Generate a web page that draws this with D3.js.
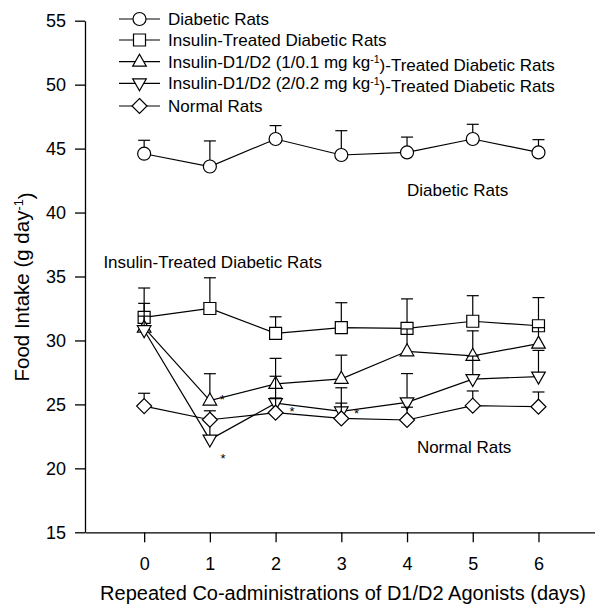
<!DOCTYPE html>
<html lang="en">
<head>
<meta charset="utf-8">
<title>Food intake</title>
<script src="https://cdnjs.cloudflare.com/ajax/libs/d3/7.8.5/d3.min.js"></script>
<style>
  body { margin: 0; background: #fff; }
  text { font-family: "Liberation Sans", Arial, Helvetica, sans-serif; fill: #000; }
</style>
</head>
<body>
<script>
// data (mean, upper SE)
var days = [0, 1, 2, 3, 4, 5, 6];
var yTicks = [15, 20, 25, 30, 35, 40, 45, 50, 55];

var diabetic    = [44.6, 43.6, 45.75, 44.5, 44.7, 45.75, 44.7];
var diabeticErr = [1.05, 2.0, 1.05, 1.9, 1.2, 1.15, 1.0];
var insulin     = [31.8, 32.5, 30.55, 31.0, 30.95, 31.5, 31.15];
var insulinErr  = [2.3, 2.4, 1.3, 1.95, 2.3, 2.0, 2.2];
var low         = [31.0, 25.3, 26.6, 27.0, 29.15, 28.8, 29.75];
var lowErr      = [1.9, 2.1, 2.0, 1.85, 1.75, 1.95, 1.25];
var high        = [30.8, 22.25, 25.1, 24.45, 25.16, 26.98, 27.17];
var highErr     = [1.1, 1.7, 2.1, 1.85, 2.25, 1.8, 2.05];
var normal      = [24.87, 23.8, 24.35, 23.9, 23.78, 24.9, 24.82];
var normalErr   = [1.0, 0.7, 1.15, 1.2, 1.0, 1.15, 1.15];

var seriesNames = ["Diabetic Rats", "Insulin-Treated Diabetic Rats",
  "Insulin-D1/D2 (1/0.1 mg kg|-1|)-Treated Diabetic Rats",
  "Insulin-D1/D2 (2/0.2 mg kg|-1|)-Treated Diabetic Rats", "Normal Rats"];
var seriesShapes = ["circle", "square", "up", "down", "diamond"];
var seriesValues = [diabetic, insulin, low, high, normal];
var seriesErrors = [diabeticErr, insulinErr, lowErr, highErr, normalErr];

// significance stars (day, value)
var starDays   = [1.19, 1.2, 2.25, 3.23];
var starValues = [25.56, 20.9, 24.62, 24.43];

// labels placed in the plot (day, value at baseline)
var noteText   = ["Diabetic Rats", "Insulin-Treated Diabetic Rats", "Normal Rats"];
var noteDays   = [4.0, -0.62, 4.15];
var noteValues = [41.3, 35.66, 21.22];

var w = 595, h = 608;

var x = d3.scaleLinear().domain([-0.9, 6.86]).range([85, 595]);
var y = d3.scaleLinear().domain([15, 55]).range([532.3, 20.7]);

var svg = d3.select("body").append("svg")
  .attr("width", w)
  .attr("height", h);

svg.append("rect").attr("width", w).attr("height", h).attr("fill", "#fff");

// marker outlines centred on 0,0
function shapePath(type) {
  if (type == "circle") return "M-6.5,0A6.5,6.5 0 1 0 6.5,0A6.5,6.5 0 1 0 -6.5,0Z";
  if (type == "square") return "M-6,-6H6V6H-6Z";
  if (type == "up") return "M0,-7.5L6.8,4.5H-6.8Z";
  if (type == "down") return "M0,7.5L6.8,-4.5H-6.8Z";
  return "M0,-7.5L7.5,0L0,7.5L-7.5,0Z";
}

// text with "|-1|" style superscripts
function addText(sel, str) {
  var parts = str.split("|");
  parts.forEach(function(p, i) {
    if (i % 2 == 1) {
      sel.append("tspan").attr("dy", "-0.45em").style("font-size", "0.62em").text(p);
    } else {
      sel.append("tspan").attr("dy", i > 0 ? "0.45em" : null).text(p);
    }
  });
}

// axes
var yAxis = d3.axisLeft(y).tickValues(yTicks).tickSize(10).tickSizeOuter(0).tickPadding(9);
var gy = svg.append("g").attr("transform", "translate(85,0)").call(yAxis);
gy.selectAll("text").style("font-size", "18px");

var xAxis = d3.axisBottom(x).tickValues(days).tickSize(10).tickSizeOuter(0).tickPadding(15);
var gx = svg.append("g").attr("transform", "translate(0,532.3)").call(xAxis);
gx.selectAll("text").style("font-size", "18px");

svg.selectAll(".domain, .tick line").attr("stroke", "#000").attr("stroke-width", 1.3);

svg.append("text")
  .attr("x", 343).attr("y", 600)
  .attr("text-anchor", "middle")
  .style("font-size", "20px")
  .text("Repeated Co-administrations of D1/D2 Agonists (days)");

var yt = svg.append("text")
  .attr("transform", "translate(29,287) rotate(-90)")
  .attr("text-anchor", "middle")
  .style("font-size", "20.5px");
addText(yt, "Food Intake (g day|-1|)");

// series
var line = d3.line()
  .x(function(d) { return x(d.day); })
  .y(function(d) { return y(d.v); });

seriesValues.forEach(function(vals, s) {
  var pts = days.map(function(d, i) { return {day: d, v: vals[i], e: seriesErrors[s][i]}; });
  var g = svg.append("g");

  g.append("path").datum(pts)
    .attr("d", line)
    .attr("fill", "none").attr("stroke", "#000").attr("stroke-width", 1.2);

  var eb = g.selectAll("g.err").data(pts).enter().append("g").attr("class", "err");
  eb.append("line")
    .attr("x1", function(d) { return x(d.day); })
    .attr("x2", function(d) { return x(d.day); })
    .attr("y1", function(d) { return y(d.v); })
    .attr("y2", function(d) { return y(d.v + d.e); })
    .attr("stroke", "#000").attr("stroke-width", 1.2);
  eb.append("line")
    .attr("x1", function(d) { return x(d.day) - 6; })
    .attr("x2", function(d) { return x(d.day) + 6; })
    .attr("y1", function(d) { return y(d.v + d.e); })
    .attr("y2", function(d) { return y(d.v + d.e); })
    .attr("stroke", "#000").attr("stroke-width", 1.2);

  g.selectAll("path.mark").data(pts).enter().append("path")
    .attr("class", "mark")
    .attr("d", shapePath(seriesShapes[s]))
    .attr("transform", function(d) { return "translate(" + x(d.day) + "," + y(d.v) + ")"; })
    .attr("fill", "#fff").attr("stroke", "#000").attr("stroke-width", 1.2);
});

// stars
svg.selectAll("text.star").data(starDays).enter().append("text")
  .attr("class", "star")
  .attr("x", function(d) { return x(d); })
  .attr("y", function(d, i) { return y(starValues[i]) + 6.5; })
  .attr("text-anchor", "middle")
  .style("font-size", "13px")
  .text("*");

// notes inside the plot
svg.selectAll("text.note").data(noteText).enter().append("text")
  .attr("class", "note")
  .attr("x", function(d, i) { return x(noteDays[i]); })
  .attr("y", function(d, i) { return y(noteValues[i]); })
  .style("font-size", "17px")
  .text(function(d) { return d; });

// legend
var legY = [19, 40, 61.7, 83.3, 106];
seriesNames.forEach(function(name, i) {
  var lg = svg.append("g").attr("transform", "translate(0," + legY[i] + ")");
  lg.append("line").attr("x1", 119).attr("x2", 160).attr("y1", 0).attr("y2", 0)
    .attr("stroke", "#000").attr("stroke-width", 1.2);
  lg.append("path").attr("d", shapePath(seriesShapes[i]))
    .attr("transform", "translate(139.5,0)")
    .attr("fill", "#fff").attr("stroke", "#000").attr("stroke-width", 1.2);
  var t = lg.append("text").attr("x", 168).attr("y", 6).style("font-size", "17px");
  addText(t, name);
});
</script>
</body>
</html>
